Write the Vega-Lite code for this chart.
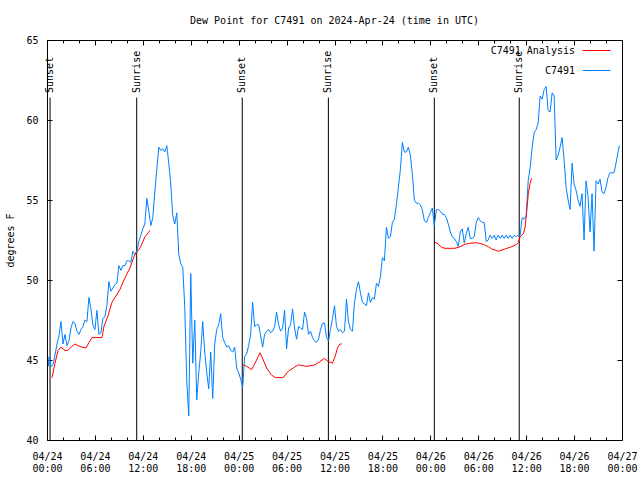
{
  "$schema": "https://vega.github.io/schema/vega-lite/v6.json",
  "width": 575,
  "height": 400,
  "autosize": {"type": "none"},
  "padding": {"left": 47, "top": 40, "right": 18, "bottom": 40},
  "background": "white",
  "title": {"text": "Dew Point for C7491 on 2024-Apr-24 (time in UTC)", "font": "DejaVu Sans Mono", "fontSize": 10, "fontWeight": "normal", "color": "black", "offset": 9, "anchor": "middle"},
  "config": {
    "view": {"stroke": "black", "strokeWidth": 1},
    "axis": {"grid": false, "domain": false, "labelFont": "DejaVu Sans Mono", "labelFontSize": 10, "labelColor": "black", "tickColor": "black", "tickWidth": 1, "titleFont": "DejaVu Sans Mono", "titleFontSize": 10, "titleFontWeight": "normal", "titleColor": "black"}
  },
  "datasets": {
    "blue": [
      {"t":"2024-04-24T00:10Z","v":44.6},{"t":"2024-04-24T00:15Z","v":45.2},{"t":"2024-04-24T00:30Z","v":44.6},{"t":"2024-04-24T00:45Z","v":44.7},
      {"t":"2024-04-24T01:00Z","v":45.3},{"t":"2024-04-24T01:15Z","v":46.0},{"t":"2024-04-24T01:30Z","v":46.5},{"t":"2024-04-24T01:45Z","v":47.4},
      {"t":"2024-04-24T02:00Z","v":46.0},{"t":"2024-04-24T02:15Z","v":46.6},{"t":"2024-04-24T02:30Z","v":45.9},{"t":"2024-04-24T02:45Z","v":46.2},
      {"t":"2024-04-24T03:00Z","v":47.0},{"t":"2024-04-24T03:15Z","v":47.4},{"t":"2024-04-24T03:30Z","v":47.3},{"t":"2024-04-24T03:45Z","v":46.8},
      {"t":"2024-04-24T04:00Z","v":46.6},{"t":"2024-04-24T04:15Z","v":46.9},{"t":"2024-04-24T04:30Z","v":47.1},{"t":"2024-04-24T04:45Z","v":47.5},
      {"t":"2024-04-24T05:00Z","v":47.4},{"t":"2024-04-24T05:15Z","v":48.9},{"t":"2024-04-24T05:30Z","v":48.2},{"t":"2024-04-24T05:45Z","v":47.2},
      {"t":"2024-04-24T06:00Z","v":46.9},{"t":"2024-04-24T06:15Z","v":48.1},{"t":"2024-04-24T06:30Z","v":46.6},{"t":"2024-04-24T06:45Z","v":46.7},
      {"t":"2024-04-24T07:00Z","v":47.6},{"t":"2024-04-24T07:15Z","v":47.7},{"t":"2024-04-24T07:30Z","v":48.4},{"t":"2024-04-24T07:45Z","v":49.9},
      {"t":"2024-04-24T08:00Z","v":49.3},{"t":"2024-04-24T08:15Z","v":49.5},{"t":"2024-04-24T08:30Z","v":49.7},{"t":"2024-04-24T08:45Z","v":49.8},
      {"t":"2024-04-24T09:00Z","v":50.9},{"t":"2024-04-24T09:15Z","v":50.6},{"t":"2024-04-24T09:30Z","v":50.9},{"t":"2024-04-24T09:45Z","v":50.9},
      {"t":"2024-04-24T10:00Z","v":51.2},{"t":"2024-04-24T10:15Z","v":51.2},{"t":"2024-04-24T10:30Z","v":51.1},{"t":"2024-04-24T10:45Z","v":51.8},
      {"t":"2024-04-24T11:00Z","v":51.6},{"t":"2024-04-24T11:15Z","v":51.8},{"t":"2024-04-24T11:30Z","v":52.4},{"t":"2024-04-24T11:45Z","v":52.8},
      {"t":"2024-04-24T12:00Z","v":53.2},{"t":"2024-04-24T12:15Z","v":53.5},{"t":"2024-04-24T12:30Z","v":55.1},{"t":"2024-04-24T12:45Z","v":54.3},
      {"t":"2024-04-24T13:00Z","v":53.4},{"t":"2024-04-24T13:15Z","v":53.9},{"t":"2024-04-24T13:30Z","v":55.5},{"t":"2024-04-24T13:45Z","v":56.9},
      {"t":"2024-04-24T14:00Z","v":58.3},{"t":"2024-04-24T14:15Z","v":58.1},{"t":"2024-04-24T14:30Z","v":58.2},{"t":"2024-04-24T14:45Z","v":58.0},
      {"t":"2024-04-24T15:00Z","v":58.4},{"t":"2024-04-24T15:15Z","v":57.3},{"t":"2024-04-24T15:30Z","v":56.0},{"t":"2024-04-24T15:45Z","v":54.0},
      {"t":"2024-04-24T16:00Z","v":53.5},{"t":"2024-04-24T16:15Z","v":54.2},{"t":"2024-04-24T16:30Z","v":51.6},{"t":"2024-04-24T16:45Z","v":51.0},
      {"t":"2024-04-24T17:00Z","v":50.8},{"t":"2024-04-24T17:15Z","v":48.3},{"t":"2024-04-24T17:30Z","v":43.7},{"t":"2024-04-24T17:45Z","v":41.5},
      {"t":"2024-04-24T18:00Z","v":50.4},{"t":"2024-04-24T18:15Z","v":44.8},{"t":"2024-04-24T18:30Z","v":47.5},{"t":"2024-04-24T18:45Z","v":42.5},
      {"t":"2024-04-24T19:00Z","v":44.2},{"t":"2024-04-24T19:15Z","v":45.5},{"t":"2024-04-24T19:30Z","v":47.4},{"t":"2024-04-24T19:45Z","v":45.5},
      {"t":"2024-04-24T20:00Z","v":44.2},{"t":"2024-04-24T20:15Z","v":43.2},{"t":"2024-04-24T20:30Z","v":45.5},{"t":"2024-04-24T20:45Z","v":42.6},
      {"t":"2024-04-24T21:00Z","v":46.0},{"t":"2024-04-24T21:15Z","v":46.9},{"t":"2024-04-24T21:30Z","v":47.2},{"t":"2024-04-24T21:45Z","v":47.9},
      {"t":"2024-04-24T22:00Z","v":46.4},{"t":"2024-04-24T22:15Z","v":46.1},{"t":"2024-04-24T22:30Z","v":45.8},{"t":"2024-04-24T22:45Z","v":45.9},
      {"t":"2024-04-24T23:00Z","v":45.6},{"t":"2024-04-24T23:15Z","v":45.5},{"t":"2024-04-24T23:30Z","v":45.8},{"t":"2024-04-24T23:45Z","v":44.5},
      {"t":"2024-04-25T00:00Z","v":44.2},{"t":"2024-04-25T00:15Z","v":43.8},{"t":"2024-04-25T00:30Z","v":43.3},{"t":"2024-04-25T00:45Z","v":45.2},
      {"t":"2024-04-25T01:00Z","v":45.4},{"t":"2024-04-25T01:15Z","v":45.9},{"t":"2024-04-25T01:30Z","v":46.6},{"t":"2024-04-25T01:45Z","v":48.6},
      {"t":"2024-04-25T02:00Z","v":47.1},{"t":"2024-04-25T02:15Z","v":47.2},{"t":"2024-04-25T02:30Z","v":47.2},{"t":"2024-04-25T02:45Z","v":46.5},
      {"t":"2024-04-25T03:00Z","v":45.8},{"t":"2024-04-25T03:15Z","v":46.6},{"t":"2024-04-25T03:30Z","v":46.8},{"t":"2024-04-25T03:45Z","v":46.9},
      {"t":"2024-04-25T04:00Z","v":46.7},{"t":"2024-04-25T04:15Z","v":46.8},{"t":"2024-04-25T04:30Z","v":47.1},{"t":"2024-04-25T04:45Z","v":48.0},
      {"t":"2024-04-25T05:00Z","v":47.2},{"t":"2024-04-25T05:15Z","v":46.8},{"t":"2024-04-25T05:30Z","v":47.0},{"t":"2024-04-25T05:45Z","v":48.1},
      {"t":"2024-04-25T06:00Z","v":45.7},{"t":"2024-04-25T06:15Z","v":47.0},{"t":"2024-04-25T06:30Z","v":47.2},{"t":"2024-04-25T06:45Z","v":48.2},
      {"t":"2024-04-25T07:00Z","v":47.0},{"t":"2024-04-25T07:15Z","v":46.3},{"t":"2024-04-25T07:30Z","v":47.1},{"t":"2024-04-25T07:45Z","v":47.0},
      {"t":"2024-04-25T08:00Z","v":46.9},{"t":"2024-04-25T08:15Z","v":48.0},{"t":"2024-04-25T08:30Z","v":47.6},{"t":"2024-04-25T08:45Z","v":46.6},
      {"t":"2024-04-25T09:00Z","v":46.8},{"t":"2024-04-25T09:15Z","v":46.4},{"t":"2024-04-25T09:30Z","v":46.2},{"t":"2024-04-25T09:45Z","v":46.1},
      {"t":"2024-04-25T10:00Z","v":46.3},{"t":"2024-04-25T10:15Z","v":46.9},{"t":"2024-04-25T10:30Z","v":47.3},{"t":"2024-04-25T10:45Z","v":47.3},
      {"t":"2024-04-25T11:00Z","v":46.4},{"t":"2024-04-25T11:15Z","v":46.2},{"t":"2024-04-25T11:30Z","v":46.9},{"t":"2024-04-25T11:45Z","v":47.6},
      {"t":"2024-04-25T12:00Z","v":48.4},{"t":"2024-04-25T12:15Z","v":47.1},{"t":"2024-04-25T12:30Z","v":46.8},{"t":"2024-04-25T12:45Z","v":46.9},
      {"t":"2024-04-25T13:00Z","v":46.7},{"t":"2024-04-25T13:15Z","v":46.8},{"t":"2024-04-25T13:30Z","v":48.8},{"t":"2024-04-25T13:45Z","v":47.4},
      {"t":"2024-04-25T14:00Z","v":46.9},{"t":"2024-04-25T14:15Z","v":46.8},{"t":"2024-04-25T14:30Z","v":48.6},{"t":"2024-04-25T14:45Z","v":49.4},
      {"t":"2024-04-25T15:00Z","v":49.9},{"t":"2024-04-25T15:15Z","v":49.2},{"t":"2024-04-25T15:30Z","v":48.6},{"t":"2024-04-25T15:45Z","v":48.5},
      {"t":"2024-04-25T16:00Z","v":48.4},{"t":"2024-04-25T16:15Z","v":49.2},{"t":"2024-04-25T16:30Z","v":48.6},{"t":"2024-04-25T16:45Z","v":48.9},
      {"t":"2024-04-25T17:00Z","v":48.8},{"t":"2024-04-25T17:15Z","v":49.8},{"t":"2024-04-25T17:30Z","v":49.6},{"t":"2024-04-25T17:45Z","v":50.2},
      {"t":"2024-04-25T18:00Z","v":51.4},{"t":"2024-04-25T18:15Z","v":51.2},{"t":"2024-04-25T18:30Z","v":53.3},{"t":"2024-04-25T18:45Z","v":52.6},
      {"t":"2024-04-25T19:00Z","v":52.7},{"t":"2024-04-25T19:15Z","v":53.6},{"t":"2024-04-25T19:30Z","v":53.8},{"t":"2024-04-25T19:45Z","v":54.7},
      {"t":"2024-04-25T20:00Z","v":55.8},{"t":"2024-04-25T20:15Z","v":56.9},{"t":"2024-04-25T20:30Z","v":58.6},{"t":"2024-04-25T20:45Z","v":58.0},
      {"t":"2024-04-25T21:00Z","v":58.0},{"t":"2024-04-25T21:15Z","v":58.3},{"t":"2024-04-25T21:30Z","v":57.8},{"t":"2024-04-25T21:45Z","v":56.6},
      {"t":"2024-04-25T22:00Z","v":55.0},{"t":"2024-04-25T22:15Z","v":54.8},{"t":"2024-04-25T22:30Z","v":54.8},{"t":"2024-04-25T22:45Z","v":54.7},
      {"t":"2024-04-25T23:00Z","v":54.4},{"t":"2024-04-25T23:15Z","v":53.7},{"t":"2024-04-25T23:30Z","v":53.6},{"t":"2024-04-25T23:45Z","v":53.9},
      {"t":"2024-04-26T00:00Z","v":54.2},{"t":"2024-04-26T00:15Z","v":54.5},{"t":"2024-04-26T00:30Z","v":53.4},{"t":"2024-04-26T00:45Z","v":54.4},
      {"t":"2024-04-26T01:00Z","v":54.4},{"t":"2024-04-26T01:15Z","v":54.3},{"t":"2024-04-26T01:30Z","v":54.1},{"t":"2024-04-26T01:45Z","v":54.1},
      {"t":"2024-04-26T02:00Z","v":53.9},{"t":"2024-04-26T02:15Z","v":53.5},{"t":"2024-04-26T02:30Z","v":53.0},{"t":"2024-04-26T02:45Z","v":52.7},
      {"t":"2024-04-26T03:00Z","v":52.6},{"t":"2024-04-26T03:15Z","v":52.4},{"t":"2024-04-26T03:30Z","v":52.1},{"t":"2024-04-26T03:45Z","v":53.0},
      {"t":"2024-04-26T04:00Z","v":53.2},{"t":"2024-04-26T04:15Z","v":52.3},{"t":"2024-04-26T04:30Z","v":52.9},{"t":"2024-04-26T04:45Z","v":53.3},
      {"t":"2024-04-26T05:00Z","v":52.6},{"t":"2024-04-26T05:15Z","v":52.6},{"t":"2024-04-26T05:30Z","v":52.7},{"t":"2024-04-26T05:45Z","v":53.6},
      {"t":"2024-04-26T06:00Z","v":53.9},{"t":"2024-04-26T06:15Z","v":53.7},{"t":"2024-04-26T06:30Z","v":53.6},{"t":"2024-04-26T06:45Z","v":53.6},
      {"t":"2024-04-26T07:00Z","v":52.4},{"t":"2024-04-26T07:15Z","v":52.5},{"t":"2024-04-26T07:30Z","v":52.8},{"t":"2024-04-26T07:45Z","v":52.6},
      {"t":"2024-04-26T08:00Z","v":52.8},{"t":"2024-04-26T08:15Z","v":52.5},{"t":"2024-04-26T08:30Z","v":52.8},{"t":"2024-04-26T08:45Z","v":52.6},
      {"t":"2024-04-26T09:00Z","v":52.8},{"t":"2024-04-26T09:15Z","v":52.6},{"t":"2024-04-26T09:30Z","v":52.8},{"t":"2024-04-26T09:45Z","v":52.6},
      {"t":"2024-04-26T10:00Z","v":52.8},{"t":"2024-04-26T10:15Z","v":52.6},{"t":"2024-04-26T10:30Z","v":52.8},{"t":"2024-04-26T10:45Z","v":52.7},
      {"t":"2024-04-26T11:00Z","v":52.8},{"t":"2024-04-26T11:15Z","v":52.8},{"t":"2024-04-26T11:30Z","v":53.9},{"t":"2024-04-26T11:45Z","v":53.8},
      {"t":"2024-04-26T12:00Z","v":54.0},{"t":"2024-04-26T12:15Z","v":56.2},{"t":"2024-04-26T12:30Z","v":57.0},{"t":"2024-04-26T12:45Z","v":58.3},
      {"t":"2024-04-26T13:00Z","v":59.2},{"t":"2024-04-26T13:15Z","v":59.4},{"t":"2024-04-26T13:30Z","v":59.8},{"t":"2024-04-26T13:45Z","v":61.5},
      {"t":"2024-04-26T14:00Z","v":61.3},{"t":"2024-04-26T14:15Z","v":61.9},{"t":"2024-04-26T14:30Z","v":62.1},{"t":"2024-04-26T14:45Z","v":60.6},
      {"t":"2024-04-26T15:00Z","v":60.5},{"t":"2024-04-26T15:15Z","v":61.7},{"t":"2024-04-26T15:30Z","v":61.5},{"t":"2024-04-26T15:45Z","v":57.5},
      {"t":"2024-04-26T16:00Z","v":57.8},{"t":"2024-04-26T16:15Z","v":58.3},{"t":"2024-04-26T16:30Z","v":58.9},{"t":"2024-04-26T16:45Z","v":57.5},
      {"t":"2024-04-26T17:00Z","v":55.8},{"t":"2024-04-26T17:15Z","v":55.0},{"t":"2024-04-26T17:30Z","v":54.4},{"t":"2024-04-26T17:45Z","v":57.3},
      {"t":"2024-04-26T18:00Z","v":56.0},{"t":"2024-04-26T18:15Z","v":55.6},{"t":"2024-04-26T18:30Z","v":55.0},{"t":"2024-04-26T18:45Z","v":54.6},
      {"t":"2024-04-26T19:00Z","v":55.4},{"t":"2024-04-26T19:15Z","v":52.5},{"t":"2024-04-26T19:30Z","v":56.2},{"t":"2024-04-26T19:45Z","v":55.2},
      {"t":"2024-04-26T20:00Z","v":53.0},{"t":"2024-04-26T20:15Z","v":55.4},{"t":"2024-04-26T20:30Z","v":51.8},{"t":"2024-04-26T20:45Z","v":56.2},
      {"t":"2024-04-26T21:00Z","v":56.0},{"t":"2024-04-26T21:15Z","v":56.3},{"t":"2024-04-26T21:30Z","v":55.5},{"t":"2024-04-26T21:45Z","v":55.4},
      {"t":"2024-04-26T22:00Z","v":55.8},{"t":"2024-04-26T22:15Z","v":56.4},{"t":"2024-04-26T22:30Z","v":56.7},{"t":"2024-04-26T22:45Z","v":56.7},
      {"t":"2024-04-26T23:00Z","v":56.7},{"t":"2024-04-26T23:15Z","v":57.3},{"t":"2024-04-26T23:30Z","v":58.0},{"t":"2024-04-26T23:40Z","v":58.4}
    ],
    "red": [
      {"t":"2024-04-24T00:38Z","v":43.9,"g":1},{"t":"2024-04-24T01:00Z","v":44.8,"g":1},{"t":"2024-04-24T01:23Z","v":45.6,"g":1},{"t":"2024-04-24T01:45Z","v":45.8,"g":1},
      {"t":"2024-04-24T02:15Z","v":45.6,"g":1},{"t":"2024-04-24T02:38Z","v":45.6,"g":1},{"t":"2024-04-24T03:00Z","v":45.8,"g":1},{"t":"2024-04-24T03:30Z","v":46.0,"g":1},
      {"t":"2024-04-24T03:53Z","v":45.9,"g":1},{"t":"2024-04-24T04:23Z","v":45.8,"g":1},{"t":"2024-04-24T04:53Z","v":45.75,"g":1},{"t":"2024-04-24T05:16Z","v":46.1,"g":1},
      {"t":"2024-04-24T05:38Z","v":46.4,"g":1},{"t":"2024-04-24T06:53Z","v":46.4,"g":1},{"t":"2024-04-24T07:08Z","v":47.1,"g":1},{"t":"2024-04-24T07:38Z","v":47.75,"g":1},
      {"t":"2024-04-24T08:08Z","v":48.6,"g":1},{"t":"2024-04-24T08:30Z","v":48.9,"g":1},{"t":"2024-04-24T09:08Z","v":49.4,"g":1},{"t":"2024-04-24T09:38Z","v":50.0,"g":1},
      {"t":"2024-04-24T10:23Z","v":50.75,"g":1},{"t":"2024-04-24T11:00Z","v":51.6,"g":1},{"t":"2024-04-24T11:39Z","v":52.0,"g":1},{"t":"2024-04-24T12:16Z","v":52.7,"g":1},
      {"t":"2024-04-24T12:54Z","v":53.1,"g":1},
      {"t":"2024-04-25T00:30Z","v":44.7,"g":2},{"t":"2024-04-25T01:00Z","v":44.6,"g":2},{"t":"2024-04-25T01:38Z","v":44.4,"g":2},{"t":"2024-04-25T02:03Z","v":44.8,"g":2},
      {"t":"2024-04-25T02:40Z","v":45.45,"g":2},{"t":"2024-04-25T03:05Z","v":45.0,"g":2},{"t":"2024-04-25T03:30Z","v":44.5,"g":2},{"t":"2024-04-25T04:07Z","v":44.06,"g":2},
      {"t":"2024-04-25T04:35Z","v":43.9,"g":2},{"t":"2024-04-25T05:35Z","v":43.9,"g":2},{"t":"2024-04-25T06:13Z","v":44.3,"g":2},{"t":"2024-04-25T06:50Z","v":44.5,"g":2},
      {"t":"2024-04-25T07:28Z","v":44.7,"g":2},{"t":"2024-04-25T08:31Z","v":44.6,"g":2},{"t":"2024-04-25T09:34Z","v":44.7,"g":2},{"t":"2024-04-25T10:11Z","v":44.9,"g":2},
      {"t":"2024-04-25T10:43Z","v":45.1,"g":2},{"t":"2024-04-25T11:14Z","v":44.9,"g":2},{"t":"2024-04-25T11:44Z","v":44.8,"g":2},{"t":"2024-04-25T12:04Z","v":45.2,"g":2},
      {"t":"2024-04-25T12:24Z","v":45.8,"g":2},{"t":"2024-04-25T12:41Z","v":46.0,"g":2},{"t":"2024-04-25T12:54Z","v":46.0,"g":2},
      {"t":"2024-04-26T00:35Z","v":52.36,"g":3},{"t":"2024-04-26T01:00Z","v":52.25,"g":3},{"t":"2024-04-26T01:25Z","v":52.04,"g":3},{"t":"2024-04-26T01:50Z","v":51.98,"g":3},
      {"t":"2024-04-26T03:05Z","v":51.98,"g":3},{"t":"2024-04-26T03:43Z","v":52.08,"g":3},{"t":"2024-04-26T04:20Z","v":52.23,"g":3},{"t":"2024-04-26T04:58Z","v":52.3,"g":3},
      {"t":"2024-04-26T05:48Z","v":52.33,"g":3},{"t":"2024-04-26T06:38Z","v":52.23,"g":3},{"t":"2024-04-26T07:16Z","v":52.08,"g":3},{"t":"2024-04-26T07:41Z","v":51.94,"g":3},
      {"t":"2024-04-26T08:31Z","v":51.8,"g":3},{"t":"2024-04-26T09:21Z","v":51.94,"g":3},{"t":"2024-04-26T10:11Z","v":52.08,"g":3},{"t":"2024-04-26T10:49Z","v":52.23,"g":3},
      {"t":"2024-04-26T11:01Z","v":52.33,"g":3},{"t":"2024-04-26T11:14Z","v":52.7,"g":3},{"t":"2024-04-26T11:39Z","v":52.9,"g":3},{"t":"2024-04-26T11:52Z","v":53.3,"g":3},
      {"t":"2024-04-26T12:04Z","v":54.27,"g":3},{"t":"2024-04-26T12:16Z","v":55.4,"g":3},{"t":"2024-04-26T12:29Z","v":56.04,"g":3},{"t":"2024-04-26T12:41Z","v":56.35,"g":3}
    ],
    "sun": [
      {"t":"2024-04-24T00:23Z","label":"Sunset"},
      {"t":"2024-04-24T11:14Z","label":"Sunrise"},
      {"t":"2024-04-25T00:27Z","label":"Sunset"},
      {"t":"2024-04-25T11:14Z","label":"Sunrise"},
      {"t":"2024-04-26T00:30Z","label":"Sunset"},
      {"t":"2024-04-26T11:08Z","label":"Sunrise"}
    ]
  },
  "layer": [
    {
      "data": {"name": "sun"},
      "mark": {"type": "rule", "color": "black", "strokeWidth": 1},
      "encoding": {
        "x": {"field": "t", "type": "temporal", "scale": {"type": "utc", "domain": [1713916800000, 1714176000000]}, "axis": null},
        "y": {"datum": 40, "type": "quantitative", "scale": {"domain": [40, 65], "nice": false, "zero": false}, "axis": null},
        "y2": {"datum": 61.4}
      }
    },
    {
      "data": {"name": "sun"},
      "mark": {"type": "text", "angle": 270, "align": "left", "baseline": "middle", "font": "DejaVu Sans Mono", "fontSize": 10, "color": "black"},
      "encoding": {
        "x": {"field": "t", "type": "temporal", "axis": null},
        "y": {"datum": 61.69, "type": "quantitative", "axis": null},
        "text": {"field": "label"}
      }
    },
    {
      "data": {"name": "blue"},
      "mark": {"type": "line", "strokeWidth": 1},
      "encoding": {
        "x": {"field": "t", "type": "temporal", "axis": {"orient": "bottom", "title": null,
          "values": [1713916800000, 1713924000000, 1713931200000, 1713938400000, 1713945600000, 1713952800000, 1713960000000, 1713967200000, 1713974400000, 1713981600000, 1713988800000, 1713996000000, 1714003200000, 1714010400000, 1714017600000, 1714024800000, 1714032000000, 1714039200000, 1714046400000, 1714053600000, 1714060800000, 1714068000000, 1714075200000, 1714082400000, 1714089600000, 1714096800000, 1714104000000, 1714111200000, 1714118400000, 1714125600000, 1714132800000, 1714140000000, 1714147200000, 1714154400000, 1714161600000, 1714168800000, 1714176000000],
          "labelExpr": "utchours(datum.value) % 6 == 0 ? [(utcmonth(datum.value) < 9 ? '0' : '') + (utcmonth(datum.value) + 1) + '/' + (utcdate(datum.value) < 10 ? '0' : '') + utcdate(datum.value), (utchours(datum.value) < 10 ? '0' : '') + utchours(datum.value) + ':00'] : ''",
          "tickSize": {"condition": {"test": "utchours(datum.value) % 6 == 0", "value": -5}, "value": -3},
          "labelPadding": 16, "labelOverlap": false, "labelFlush": false, "labelBound": false, "labelLineHeight": 12}},
        "y": {"field": "v", "type": "quantitative", "axis": {"orient": "left", "title": "degrees F", "values": [40, 45, 50, 55, 60, 65], "tickSize": -5, "labelPadding": 14, "titlePadding": 10}},
        "color": {"datum": "C7491", "type": "nominal", "scale": {"domain": ["C7491 Analysis", "C7491"], "range": ["#ff0000", "#0080ff"]}, "legend": {"orient": "none", "legendX": 535, "legendY": -4, "title": null, "symbolType": "stroke", "symbolSize": 784, "symbolStrokeWidth": 1, "labelAlign": "right", "labelOffset": -36, "labelFont": "DejaVu Sans Mono", "labelFontSize": 10, "labelColor": "black", "rowPadding": -7, "padding": 0, "labelLimit": 0}}
      }
    },
    {
      "data": {"name": "red"},
      "mark": {"type": "line", "strokeWidth": 1},
      "encoding": {
        "x": {"field": "t", "type": "temporal", "axis": {"orient": "top", "title": null, "labels": false,
          "values": [1713916800000, 1713924000000, 1713931200000, 1713938400000, 1713945600000, 1713952800000, 1713960000000, 1713967200000, 1713974400000, 1713981600000, 1713988800000, 1713996000000, 1714003200000, 1714010400000, 1714017600000, 1714024800000, 1714032000000, 1714039200000, 1714046400000, 1714053600000, 1714060800000, 1714068000000, 1714075200000, 1714082400000, 1714089600000, 1714096800000, 1714104000000, 1714111200000, 1714118400000, 1714125600000, 1714132800000, 1714140000000, 1714147200000, 1714154400000, 1714161600000, 1714168800000, 1714176000000],
          "tickSize": {"condition": {"test": "utchours(datum.value) % 6 == 0", "value": -5}, "value": -3}}},
        "y": {"field": "v", "type": "quantitative", "axis": {"orient": "right", "title": null, "labels": false, "values": [40, 45, 50, 55, 60, 65], "tickSize": -5}},
        "detail": {"field": "g"},
        "color": {"datum": "C7491 Analysis", "type": "nominal"}
      }
    }
  ],
  "resolve": {"axis": {"x": "independent", "y": "independent"}}
}
